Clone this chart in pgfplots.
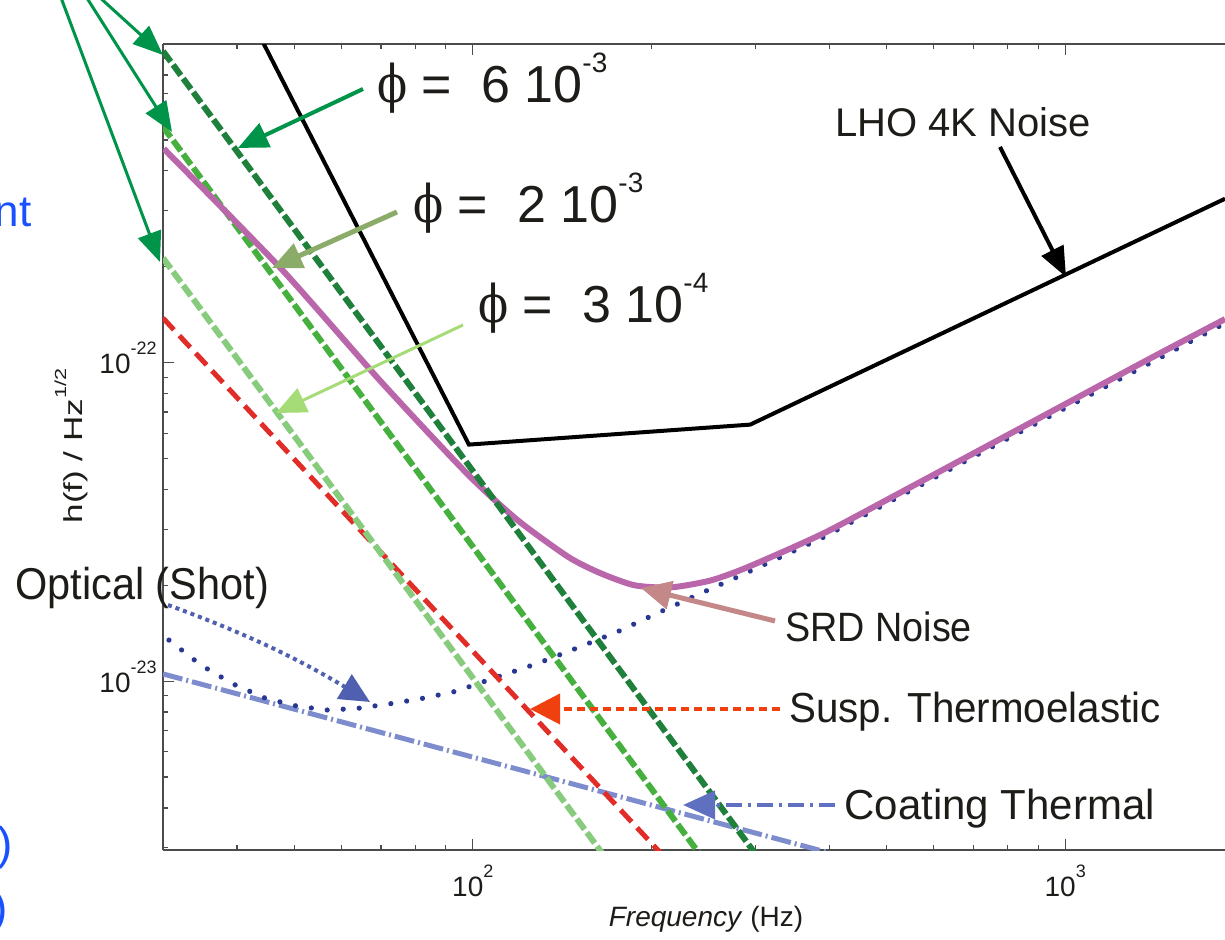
\documentclass[border=0pt]{standalone}
\usepackage{pgfplots}
\pgfplotsset{compat=1.18}
\usepackage{fontspec}
\setmainfont{Liberation Sans}
\newfontfamily\grk{DejaVu Serif}
\usetikzlibrary{arrows.meta}
\definecolor{srd}{RGB}{186,102,170}
\definecolor{dkgreen}{RGB}{30,128,58}
\definecolor{mdgreen}{RGB}{70,176,62}
\definecolor{ltgreen}{RGB}{135,203,125}
\definecolor{susred}{RGB}{226,44,40}
\definecolor{coat}{RGB}{125,140,205}
\definecolor{optblue}{RGB}{40,55,145}
\definecolor{arrgreen}{RGB}{0,147,74}
\definecolor{arrolive}{RGB}{139,171,105}
\definecolor{arrlight}{RGB}{166,220,120}
\definecolor{arrsrd}{RGB}{196,136,136}
\definecolor{arrsus}{RGB}{240,64,16}
\definecolor{arrcoat}{RGB}{96,112,192}
\definecolor{arropt}{RGB}{80,96,176}
\definecolor{txt}{RGB}{30,28,25}
\definecolor{bluetxt}{RGB}{25,80,255}
\newcommand{\tp}[1]{10\raisebox{9.5pt}{\fontsize{9}{9}\selectfont #1}}
\newcommand{\phil}[2]{{\fontsize{26}{26}\selectfont\scalebox{0.85}[1]{\grk ϕ} =\ \ #1 10\raisebox{15pt}{\fontsize{14}{14}\selectfont #2}}}
\begin{document}
\begin{tikzpicture}
\useasboundingbox (0,0) rectangle (612.5pt,470pt);
\begin{axis}[
  at={(81.5pt,45pt)}, anchor=south west, scale only axis,
  width=531pt, height=403pt,
  xmode=log, ymode=log,
  xmin=30, xmax=1861, ymin=2.95e-24, ymax=1e-21,
  axis x line*=box, axis y line*=left,
  axis line style={line width=0.8pt, color=black!70},
  xtick={100,1000}, xticklabels={\tp{2},\tp{3}},
  minor xtick={40,50,60,70,80,90,200,300,400,500,600,700,800,900},
  ytick={1e-23,1e-22}, yticklabels={\tp{-23},\tp{-22}},
  minor ytick={3e-24,4e-24,5e-24,6e-24,7e-24,8e-24,9e-24,2e-23,3e-23,4e-23,5e-23,6e-23,7e-23,8e-23,9e-23,2e-22,3e-22,4e-22,5e-22,6e-22,7e-22,8e-22,9e-22},
  major tick length=5.5pt, minor tick length=2.5pt,
  tick style={black!70, line width=0.6pt},
  xticklabel style={font=\fontsize{14}{14}\selectfont, text=txt, anchor=base, yshift=-23pt, inner sep=0pt},
  yticklabel style={font=\fontsize{14}{14}\selectfont, text=txt, anchor=base east, yshift=-5.5pt, xshift=-3pt, inner sep=0pt},
  clip=true,
]
% Coating thermal
\addplot[coat, line width=2.5pt, dash pattern=on 10pt off 2pt on 1pt off 2pt] coordinates {(30,1.054e-23) (400,2.89e-24)};
% Optical (shot)
\addplot[optblue, line width=2.6pt, line cap=round, dash pattern=on 0.01pt off 8pt] coordinates {
(30.7,1.346e-23) (34.8,1.122e-23) (39.4,9.8e-24) (44.6,8.85e-24) (50.5,8.35e-24) (57.1,8.11e-24)
(64.4,8.23e-24) (73.6,8.53e-24) (82.7,8.85e-24) (94.0,9.31e-24) (106,1.007e-23) (128.8,1.138e-23)
(145.2,1.241e-23) (175,1.426e-23) (198.2,1.589e-23) (238.8,1.862e-23) (288.4,2.18e-23)
(390.7,2.83e-23) (719,5.2e-23) (1000,7.2e-23) (1861,1.33e-22)};
% Susp. thermoelastic
\addplot[susred, line width=2.5pt, dash pattern=on 8pt off 4pt] coordinates {(30,1.38e-22) (250,1.99e-24)};
% phi curves
\addplot[ltgreen, line width=3pt, dash pattern=on 6.5pt off 2pt] coordinates {(30,2.13e-22) (320,5.46e-25)};
\addplot[mdgreen, line width=3pt, dash pattern=on 6.5pt off 2pt] coordinates {(30,5.5e-22) (320,1.41e-24)};
% SRD noise
\addplot[srd, line width=3pt, smooth, tension=0.4] coordinates {
(30.1,4.69e-22) (47.5,1.97e-22) (69.7,8.79e-23) (97.7,4.49e-23) (119.1,3.20e-23) (145.2,2.45e-23)
(164.5,2.18e-23) (187.6,2.00e-23) (215.8,1.97e-23) (251.8,2.07e-23) (291,2.28e-23) (390.7,2.91e-23)
(527,3.91e-23) (719,5.33e-23) (1000,7.41e-23) (1390,1.03e-22) (1861,1.37e-22)};
\addplot[dkgreen, line width=3pt, dash pattern=on 6.5pt off 2pt] coordinates {(30,9.5e-22) (320,2.44e-24)};
% LHO 4K
\addplot[black, line width=2pt] coordinates {(40,1.46e-21) (98.5,5.53e-23) (294,6.39e-23) (1861,3.27e-22)};
\end{axis}
\begin{scope}[shift={(0,470pt)}, x=0.5pt, y=-0.5pt]
% texts
\node[anchor=base west, inner sep=0pt, text=txt] at (377,103) {\phil{6}{-3}};
\node[anchor=base west, inner sep=0pt, text=txt] at (413,223) {\phil{2}{-3}};
\node[anchor=base west, inner sep=0pt, text=txt] at (478,323) {\phil{3}{-4}};
\node[anchor=base west, inner sep=0pt, text=txt] at (835,137) {\fontsize{20}{20}\selectfont LHO 4K Noise};
\node[anchor=base west, inner sep=0pt, text=txt] at (785,642) {\scalebox{0.92}[1]{\fontsize{20.5}{20.5}\selectfont SRD Noise}};
\node[anchor=base west, inner sep=0pt, text=txt] at (789,723) {\scalebox{0.96}[1]{\fontsize{21}{21}\selectfont Susp. Thermoelastic}};
\node[anchor=base west, inner sep=0pt, text=txt] at (844,820) {\fontsize{21}{21}\selectfont Coating Thermal};
\node[anchor=base west, inner sep=0pt, text=txt] at (15,600) {\scalebox{0.93}[1]{\fontsize{22.3}{22.3}\selectfont Optical (Shot)}};
\node[anchor=base east, inner sep=0pt, text=bluetxt] at (32,227) {\fontsize{22}{22}\selectfont nt};
\node[anchor=base east, inner sep=0pt, text=bluetxt] at (13,860) {\fontsize{23}{23}\selectfont )};
\node[anchor=base east, inner sep=0pt, text=bluetxt] at (8,924) {\fontsize{23}{23}\selectfont )};
\node[anchor=base, inner sep=0pt, text=txt] at (706,927) {\fontsize{14}{14}\selectfont\textit{Frequency} (Hz)};
\node[anchor=base, inner sep=0pt, text=txt, rotate=90] at (82,446) {\scalebox{1.35}[1]{\fontsize{13}{13}\selectfont h(f) / Hz\raisebox{8pt}{\fontsize{8}{8}\selectfont 1/2}}};
% arrows
\draw[arrgreen, line width=1.5pt, -{Triangle[length=15pt,width=12pt]}] (97,-5) -- (163,55);
\draw[arrgreen, line width=1.5pt, -{Triangle[length=15pt,width=12pt]}] (85,-5) -- (172,132);
\draw[arrgreen, line width=1.5pt, -{Triangle[length=15pt,width=12pt]}] (60,-5) -- (160,262);
\draw[arrgreen, line width=2pt, -{Triangle[length=15pt,width=13pt]}] (363,89) -- (238,148);
\draw[arrolive, line width=2.5pt, -{Triangle[length=15pt,width=13pt]}] (397,212) -- (272,268);
\draw[arrlight, line width=1.5pt, -{Triangle[length=15pt,width=13pt]}] (463,325) -- (276,413);
\draw[black, line width=2pt, -{Triangle[length=15pt,width=12pt]}] (1000,147) -- (1066,277);
\draw[arrsrd, line width=2.5pt, -{Triangle[length=15pt,width=14pt]}] (775,621) -- (641,588);
\draw[arrsus, line width=2pt, dash pattern=on 4pt off 2.5pt, -{Triangle[length=15pt,width=15pt]}] (780,709) -- (530,709);
\draw[arrcoat, line width=2pt, dash pattern=on 8pt off 3pt on 1.5pt off 3pt, -{Triangle[length=16pt,width=14pt]}] (835,805) -- (683,805);
\draw[arropt, line width=2pt, dash pattern=on 2pt off 2pt, -{Triangle[length=15pt,width=14pt]}] (168,605) .. controls (250,635) and (300,660) .. (370,702);
\end{scope}
\end{tikzpicture}
\end{document}
